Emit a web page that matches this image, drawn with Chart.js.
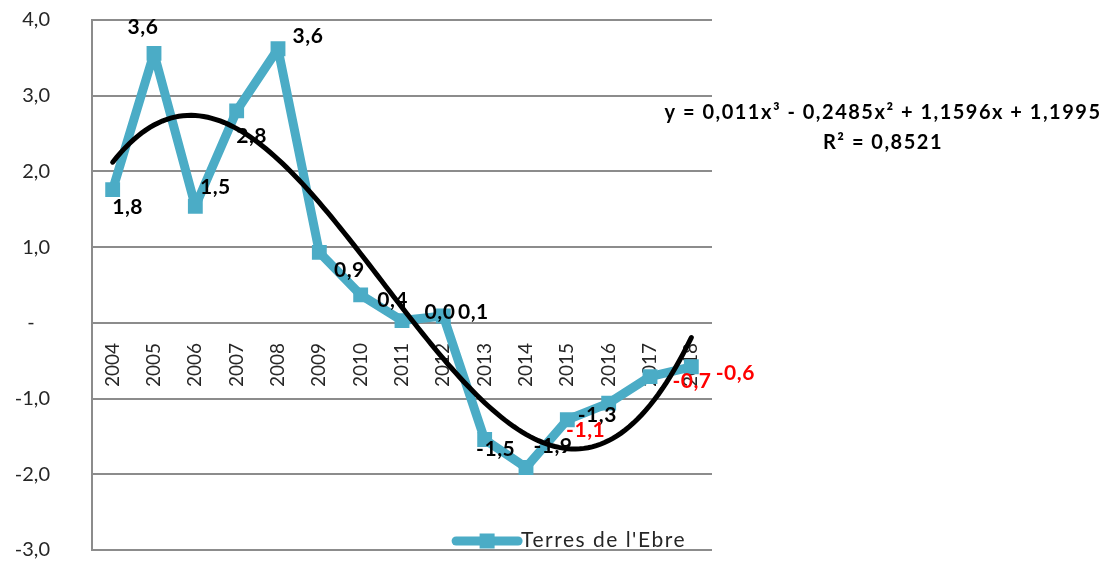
<!DOCTYPE html>
<html>
<head>
<meta charset="utf-8">
<script src="https://cdn.jsdelivr.net/npm/chart.js@4.4.1/dist/chart.umd.min.js"></script>
<style>
html,body{margin:0;padding:0;background:#ffffff;}
#wrap{width:1107px;height:566px;position:relative;}
</style>
</head>
<body>
<div id="wrap"><canvas id="c"></canvas></div>
<script>
// ---- data ----
const years = ['2004','2005','2006','2007','2008','2009','2010','2011','2012','2013','2014','2015','2016','2017','2018'];
const values = [1.76, 3.56, 1.54, 2.80, 3.62, 0.93, 0.37, 0.03, 0.09, -1.54, -1.91, -1.28, -1.06, -0.71, -0.58];
const seriesName = "Terres de l'Ebre";
// polynomial trendline shown on the chart: y = a3 x^3 + a2 x^2 + a1 x + a0 (x = 1..15)
const trendCoefficients = [0.011, -0.2485, 1.1596, 1.1995];
const trendR2 = '0,8521';
const yTickValues = [-3, -2, -1, 0, 1, 2, 3, 4];

// ---- helpers ----
const fmt1 = v => (Math.round(v * 10) / 10).toFixed(1).replace('.', ',').replace('-0,0', '0,0');
const fmtCoef = v => String(Math.abs(v)).replace('.', ',');
const poly = x => trendCoefficients[0]*x*x*x + trendCoefficients[1]*x*x + trendCoefficients[2]*x + trendCoefficients[3];

const trendData = [];
for (let i = 0; i <= 140; i++) {
  const x = 1 + i * 0.1;
  trendData.push({x: x, y: poly(x)});
}

const eqText = 'y = ' + fmtCoef(trendCoefficients[0]) + 'x³ ' +
  (trendCoefficients[1] < 0 ? '- ' : '+ ') + fmtCoef(trendCoefficients[1]) + 'x² ' +
  (trendCoefficients[2] < 0 ? '- ' : '+ ') + fmtCoef(trendCoefficients[2]) + 'x ' +
  (trendCoefficients[3] < 0 ? '- ' : '+ ') + fmtCoef(trendCoefficients[3]);
const r2Text = 'R² = ' + trendR2;

const BLUE = '#4bacc6';
const GRID = '#8c8c8c';
const TEXT = '#262626';
const FONT = 'Lato';

Chart.defaults.font.family = FONT;

const labelPlugin = {
  id: 'pointLabels',
  afterDatasetDraw(chart, args, opts) {
    if (args.index !== 1) return;
    const meta = chart.getDatasetMeta(1);
    const ctx = chart.ctx;
    ctx.save();
    ctx.font = 'bold 21px ' + FONT;
    ctx.letterSpacing = '0.5px';
    ctx.textAlign = 'center';
    ctx.textBaseline = 'middle';
    meta.data.forEach((pt, i) => {
      const off = opts.offsets[i] || [0, 0];
      ctx.fillStyle = opts.red.includes(i) ? '#ff0000' : '#000000';
      ctx.fillText(fmt1(values[i]), pt.x + off[0], pt.y + off[1]);
    });
    ctx.restore();
  },
  afterDraw(chart, args, opts) {
    const ctx = chart.ctx;
    const a = chart.chartArea;
    ctx.save();
    // legend (inside plot, bottom)
    const lRight = a.right - 26;
    const ly = a.bottom - 9;
    ctx.font = '21px ' + FONT;
    ctx.letterSpacing = '1.5px';
    const tw = ctx.measureText(seriesName).width;
    const tx = lRight - tw;
    const lx2 = tx - 3, lx1 = lx2 - 62;
    ctx.strokeStyle = BLUE;
    ctx.lineWidth = 9;
    ctx.lineCap = 'round';
    ctx.beginPath(); ctx.moveTo(lx1, ly); ctx.lineTo(lx2, ly); ctx.stroke();
    ctx.fillStyle = BLUE;
    ctx.fillRect((lx1 + lx2) / 2 - 7.5, ly - 7.5, 15, 15);
    ctx.fillStyle = TEXT;
    ctx.textAlign = 'left';
    ctx.textBaseline = 'middle';
    ctx.fillText(seriesName, tx, ly - 1);
    // trendline equation
    ctx.fillStyle = '#000000';
    ctx.font = 'bold 20px ' + FONT;
    ctx.letterSpacing = '1.5px';
    ctx.textAlign = 'center';
    const cx = a.right + 171;
    ctx.fillText(eqText, cx, a.top + 93);
    ctx.fillText(r2Text, cx, a.top + 123);
    ctx.restore();
  }
};

new Chart(document.getElementById('c'), {
  type: 'line',
  data: {
    labels: years,
    datasets: [
      {
        label: 'Polinómica',
        data: trendData,
        xAxisID: 'x2',
        borderColor: '#000000',
        borderWidth: 5,
        pointRadius: 0,
        tension: 0,
        fill: false,
        borderCapStyle: 'round',
        order: 0
      },
      {
        label: seriesName,
        data: values,
        xAxisID: 'x',
        borderColor: BLUE,
        backgroundColor: BLUE,
        borderWidth: 9,
        borderJoinStyle: 'round',
        borderCapStyle: 'round',
        pointStyle: 'rect',
        pointRadius: 10.5,
        pointBorderWidth: 0,
        pointBackgroundColor: BLUE,
        tension: 0,
        fill: false,
        order: 1
      }
    ]
  },
  options: {
    responsive: true,
    maintainAspectRatio: false,
    animation: false,
    devicePixelRatio: 1,
    layout: {padding: {left: 0, top: 20, right: 395, bottom: 16}},
    plugins: {
      legend: {display: false},
      tooltip: {enabled: false},
      pointLabels: {
        offsets: [[15,18],[-11,-26],[20,-19],[15,25],[30,-13],[30,18],[32,5],[38,-8],[30,-4],[11,10],[27,-21],[30,-5],[-23,27],[42,5],[44,6]],
        red: [12, 13, 14]
      }
    },
    scales: {
      x: {
        type: 'category',
        position: {y: 0},
        offset: true,
        grid: {display: false, drawTicks: false},
        border: {display: false},
        ticks: {
          autoSkip: false,
          minRotation: 90,
          maxRotation: 90,
          padding: 20,
          color: TEXT,
          font: {size: 19, family: FONT}
        }
      },
      x2: {
        type: 'linear',
        display: false,
        min: 0.5,
        max: 15.5
      },
      y: {
        min: -3,
        max: 4,
        afterBuildTicks: s => { s.ticks = yTickValues.map(v => ({value: v})); },
        afterFit: s => { s.width = 92; },
        grid: {color: GRID, lineWidth: 2, drawTicks: true, tickLength: 42, tickColor: 'rgba(0,0,0,0)'},
        border: {display: true, color: GRID, width: 2},
        ticks: {
          padding: 0,
          color: TEXT,
          font: {size: 20, family: FONT},
          callback: v => v === 0 ? '-   ' : fmt1(v)
        }
      }
    }
  },
  plugins: [labelPlugin]
});
</script>
</body>
</html>
